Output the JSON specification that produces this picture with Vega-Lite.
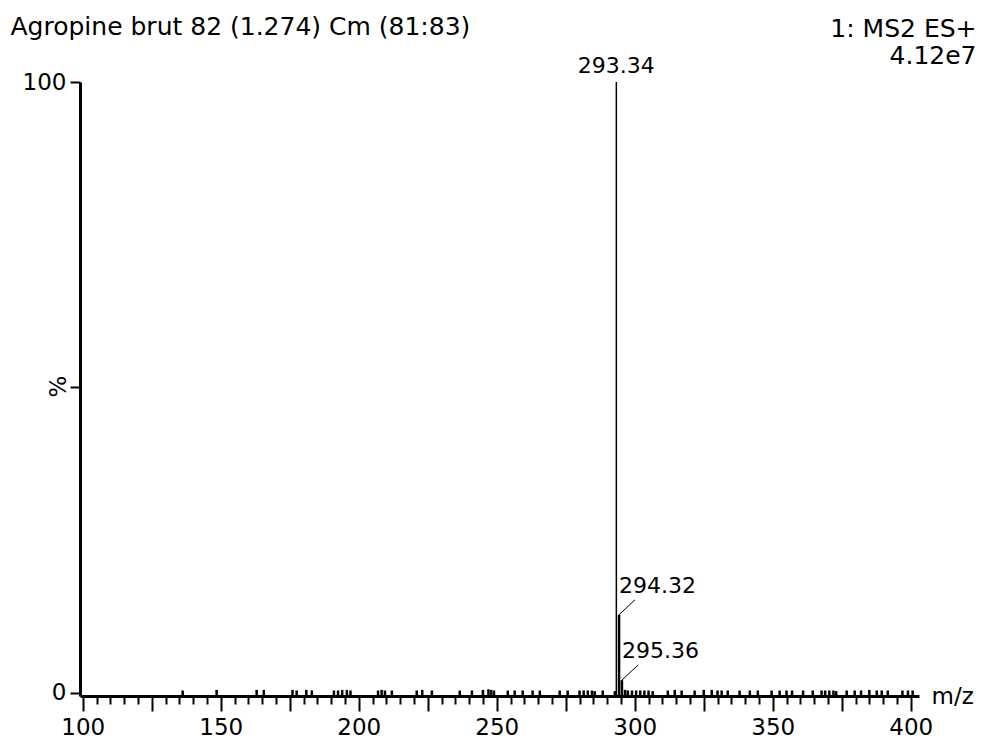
{
  "$schema": "https://vega.github.io/schema/vega-lite/v6.json",
  "width": 839,
  "height": 614,
  "autosize": "none",
  "padding": {"left": 80, "top": 82, "right": 65, "bottom": 44},
  "background": "white",
  "config": {"view": {"stroke": null}, "font": "DejaVu Sans"},
  "datasets": {
    "spectrum": [
      {"mz": 293.34, "i": 100, "lab": "293.34"},
      {"mz": 294.32, "i": 12.8, "lab": "294.32"},
      {"mz": 295.36, "i": 2.1, "lab": "295.36"},
      {"mz": 136.2, "i": 0.4}, {"mz": 148.5, "i": 0.5}, {"mz": 163, "i": 0.5}, {"mz": 165.6, "i": 0.5},
      {"mz": 176, "i": 0.5}, {"mz": 177.5, "i": 0.4}, {"mz": 181, "i": 0.5}, {"mz": 183, "i": 0.4},
      {"mz": 191, "i": 0.4}, {"mz": 192.5, "i": 0.4}, {"mz": 194, "i": 0.5}, {"mz": 195.7, "i": 0.5},
      {"mz": 197, "i": 0.4}, {"mz": 207, "i": 0.4}, {"mz": 208.3, "i": 0.5}, {"mz": 209.5, "i": 0.4},
      {"mz": 212, "i": 0.4}, {"mz": 221, "i": 0.4}, {"mz": 223, "i": 0.5}, {"mz": 226.5, "i": 0.4},
      {"mz": 236.6, "i": 0.4}, {"mz": 241, "i": 0.4}, {"mz": 245, "i": 0.5}, {"mz": 247, "i": 0.6},
      {"mz": 248, "i": 0.5}, {"mz": 249, "i": 0.4}, {"mz": 254, "i": 0.4}, {"mz": 256.5, "i": 0.4},
      {"mz": 259.4, "i": 0.4}, {"mz": 263, "i": 0.4}, {"mz": 265.6, "i": 0.4}, {"mz": 272.8, "i": 0.4},
      {"mz": 275.7, "i": 0.4}, {"mz": 280, "i": 0.4}, {"mz": 281.5, "i": 0.4}, {"mz": 283, "i": 0.4},
      {"mz": 284.5, "i": 0.4}, {"mz": 285.5, "i": 0.3}, {"mz": 288.4, "i": 0.4}, {"mz": 292.8, "i": 0.3},
      {"mz": 296.5, "i": 0.5}, {"mz": 297.5, "i": 0.4}, {"mz": 299, "i": 0.4}, {"mz": 300.5, "i": 0.4},
      {"mz": 302, "i": 0.4}, {"mz": 303.5, "i": 0.4}, {"mz": 305, "i": 0.4}, {"mz": 306.5, "i": 0.3},
      {"mz": 312, "i": 0.4}, {"mz": 314.5, "i": 0.5}, {"mz": 317, "i": 0.4}, {"mz": 321.7, "i": 0.4},
      {"mz": 325, "i": 0.5}, {"mz": 327.9, "i": 0.5}, {"mz": 330, "i": 0.4}, {"mz": 331.5, "i": 0.4},
      {"mz": 333.7, "i": 0.4}, {"mz": 338, "i": 0.4}, {"mz": 341.7, "i": 0.4}, {"mz": 344.6, "i": 0.4},
      {"mz": 349.6, "i": 0.4}, {"mz": 352.5, "i": 0.4}, {"mz": 355, "i": 0.4}, {"mz": 357, "i": 0.4},
      {"mz": 361, "i": 0.4}, {"mz": 364.5, "i": 0.4}, {"mz": 367.7, "i": 0.4}, {"mz": 369, "i": 0.4},
      {"mz": 370.5, "i": 0.4}, {"mz": 372, "i": 0.4}, {"mz": 373, "i": 0.3}, {"mz": 376.8, "i": 0.4},
      {"mz": 379.7, "i": 0.4}, {"mz": 382, "i": 0.4}, {"mz": 385, "i": 0.5}, {"mz": 387.7, "i": 0.4},
      {"mz": 389.5, "i": 0.4}, {"mz": 391.7, "i": 0.4}, {"mz": 397, "i": 0.4}, {"mz": 399, "i": 0.4},
      {"mz": 400.7, "i": 0.4}
    ]
  },
  "data": {"name": "spectrum"},
  "layer": [
    {
      "mark": {"type": "rule", "color": "black"},
      "encoding": {
        "x": {
          "field": "mz", "type": "quantitative",
          "scale": {"domain": [99, 403], "nice": false, "zero": false},
          "axis": {
            "orient": "bottom",
            "values": [100,105,110,115,120,125,130,135,140,145,150,155,160,165,170,175,180,185,190,195,200,205,210,215,220,225,230,235,240,245,250,255,260,265,270,275,280,285,290,295,300,305,310,315,320,325,330,335,340,345,350,355,360,365,370,375,380,385,390,395,400],
            "tickSize": {"condition": {"test": "datum.value % 25 === 0", "value": 15}, "value": 8},
            "tickWidth": 2, "tickColor": "black",
            "domainWidth": 3, "domainColor": "black",
            "grid": false,
            "labelExpr": "datum.value % 50 === 0 ? datum.label : ''",
            "labelOverlap": false, "labelFlush": false,
            "labelFont": "DejaVu Sans", "labelFontSize": 23, "labelColor": "black", "labelPadding": 5,
            "title": "m/z", "titleFont": "DejaVu Sans", "titleFontSize": 23, "titleFontWeight": "normal", "titleColor": "black",
            "titleX": 851, "titleY": 0, "titleAlign": "left", "titleBaseline": "middle", "titleAnchor": null
          }
        },
        "y": {
          "field": "i", "type": "quantitative",
          "scale": {"domain": [-0.5, 100], "nice": false, "zero": false},
          "axis": {
            "values": [0, 50, 100],
            "tickSize": 10, "tickWidth": 2, "tickColor": "black",
            "domainWidth": 3, "domainColor": "black",
            "grid": false,
            "labelExpr": "datum.value === 50 ? '' : datum.label",
            "labelFont": "DejaVu Sans", "labelFontSize": 23, "labelColor": "black", "labelPadding": 4,
            "labelBaseline": "middle",
            "title": "%", "titleFont": "DejaVu Sans", "titleFontSize": 23, "titleFontWeight": "normal", "titleColor": "black",
            "titleX": -22, "titleY": 304, "titleAlign": "center", "titleBaseline": "middle", "titleAngle": -90
          }
        },
        "y2": {"datum": -0.5},
        "strokeWidth": {"condition": {"test": "datum.i > 50", "value": 1.5}, "value": 2.5}
      }
    },
    {
      "transform": [{"filter": "datum.lab === '293.34'"}],
      "mark": {"type": "text", "align": "center", "baseline": "alphabetic", "dy": -9, "font": "DejaVu Sans", "fontSize": 22, "color": "black"},
      "encoding": {
        "x": {
          "field": "mz", "type": "quantitative",
          "axis": {
            "orient": "top", "ticks": false, "labels": false, "domain": false, "grid": false,
            "title": ["1: MS2 ES+", "4.12e7"],
            "titleFont": "DejaVu Sans", "titleFontSize": 25, "titleFontWeight": "normal", "titleColor": "black",
            "titleX": 896, "titleY": -46, "titleAlign": "right", "titleBaseline": "alphabetic", "titleAngle": 0, "titleLineHeight": 27
          }
        },
        "y": {"field": "i", "type": "quantitative", "axis": null},
        "text": {"field": "lab"}
      }
    },
    {
      "transform": [{"filter": "datum.lab === '294.32' || datum.lab === '295.36'"}],
      "mark": {"type": "text", "align": "left", "baseline": "alphabetic", "dx": 0, "dy": -22, "font": "DejaVu Sans", "fontSize": 22, "color": "black"},
      "encoding": {
        "x": {"field": "mz", "type": "quantitative", "axis": null},
        "y": {"field": "i", "type": "quantitative", "axis": null},
        "text": {"field": "lab"}
      }
    },
    {
      "transform": [{"filter": "datum.lab === '294.32' || datum.lab === '295.36'"}],
      "mark": {"type": "rule", "color": "black", "strokeWidth": 1, "x2Offset": 16, "y2Offset": -15},
      "encoding": {
        "x": {
          "field": "mz", "type": "quantitative",
          "axis": {
            "orient": "top", "ticks": false, "labels": false, "domain": false, "grid": false,
            "title": "Agropine brut 82 (1.274) Cm (81:83)",
            "titleFont": "DejaVu Sans", "titleFontSize": 25, "titleFontWeight": "normal", "titleColor": "black",
            "titleX": -70, "titleY": -48, "titleAlign": "left", "titleBaseline": "alphabetic", "titleAngle": 0
          }
        },
        "x2": {"field": "mz"},
        "y": {"field": "i", "type": "quantitative", "axis": null},
        "y2": {"field": "i"}
      }
    }
  ],
  "resolve": {"axis": {"x": "independent", "y": "independent"}}
}
